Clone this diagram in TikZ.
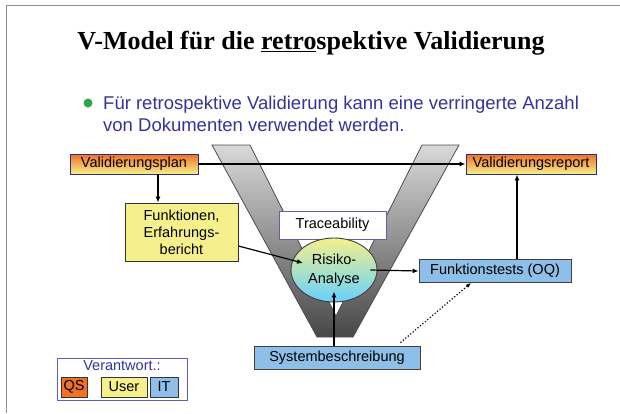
\documentclass[tikz,border=0pt]{standalone}
\usepackage{fontspec}
\setmainfont{Liberation Serif}
\setsansfont{Liberation Sans}
\usetikzlibrary{positioning, arrows.meta, shapes.geometric}
\definecolor{qsorange}{HTML}{F07024}
\definecolor{useryellow}{HTML}{F5F08C}
\definecolor{itblue}{HTML}{8DBFE8}
\definecolor{rimblue}{HTML}{2E2E7A}
\definecolor{rimpurple}{HTML}{6A5AB0}
\definecolor{textblue}{HTML}{333399}
\definecolor{dotgreen}{HTML}{2FA34A}
\definecolor{framegray}{HTML}{8C8C8C}
\tikzset{
  doc/.style={
    draw=rimblue, rectangle, line width=0.9pt,
    top color=qsorange, bottom color=useryellow,
    minimum width=128pt, minimum height=20pt,
    font=\sffamily\fontsize{14.5}{17}\selectfont, inner sep=0pt
  },
  userbox/.style={
    draw=black!80, rectangle, line width=0.9pt,
    fill=useryellow, font=\sffamily\fontsize{14.5}{17}\selectfont,
    inner sep=0pt, align=center
  },
  itbox/.style={
    draw=black!75, rectangle, line width=0.9pt,
    fill=itblue, minimum height=23pt,
    font=\sffamily\fontsize{14.5}{17}\selectfont, inner sep=0pt
  },
  tracebox/.style={
    draw=rimpurple, rectangle, line width=0.9pt, fill=white,
    minimum width=107pt, minimum height=28pt,
    font=\sffamily\fontsize{14.5}{17}\selectfont, inner sep=0pt
  },
  riskell/.style={
    draw=black!75, ellipse, line width=0.9pt,
    top color=useryellow, bottom color=cyan!70!blue!60,
    minimum width=86pt, minimum height=64pt,
    font=\sffamily\fontsize{14.5}{18.5}\selectfont, inner sep=0pt, align=center
  },
  tag/.style={
    draw=black!80, rectangle, line width=0.9pt,
    minimum height=20pt, font=\sffamily\fontsize{14.5}{17}\selectfont,
    inner sep=0pt
  },
  harr/.style={-{Latex[length=6pt, width=5pt]}, line width=1.2pt},
  dotarr/.style={-{Latex[length=5pt, width=4pt]}, line width=1.2pt, dotted},
}

\begin{document}
\begin{tikzpicture}[x=1pt, y=-1pt]
  \useasboundingbox (0,0) rectangle (620,413);
  % slide frame
  \draw[framegray, line width=1pt] (6,413) -- (6,5) -- (620,5);
  \node[font=\fontsize{26}{30}\selectfont\bfseries] (title) at (311,43)
    {V-Model für die \underline{retro}spektive Validierung};
  \fill[dotgreen] (88,103) circle (4.5);
  \node[anchor=north west, align=left, text=textblue, inner sep=0pt,
    font=\sffamily\fontsize{18.5}{22}\selectfont] (intro) at (103,96)
    {Für retrospektive Validierung kann eine verringerte Anzahl\\
     von Dokumenten verwendet werden.};
  % the V
  \draw[black!70, line width=0.8pt, top color=black!15, bottom color=black!72]
    (212,145) -- (250,145) -- (336,316) -- (422,145) -- (459,145)
    -- (353,337) -- (317,337) -- cycle;
  \node[doc] (plan) at (134,164) {Validierungsplan};
  \node[doc, minimum width=130pt] (report) at (531,164) {Validierungsreport};
  \node[userbox, minimum width=113pt, minimum height=58pt] (funk)
    at (181.5,232) {Funktionen,\\Erfahrungs-\\bericht};
  \node[tracebox] (trace) at (332.5,225) {Traceability};
  \node[riskell] (risk) at (334,270) {Risiko-\\Analyse};
  \node[itbox, minimum width=152pt] (tests) at (495,271) {Funktionstests (OQ)};
  \node[itbox, minimum width=166pt] (sys) at (337,357.5) {Systembeschreibung};
  \draw[harr] (plan) -- (report);
  \draw[harr] ([xshift=24pt]plan.south) -- ([xshift=24pt]plan.south |- funk.north);
  \draw[harr] ([yshift=-14pt]funk.east) -- ([xshift=-31pt, yshift=7pt]risk.center);
  \draw[harr] ([xshift=-7pt]risk.east) -- (tests.west);
  \draw[harr] ([xshift=-14pt]report.south |- tests.north) -- ([xshift=-14pt]report.south);
  \draw[harr] (risk.south |- sys.north) -- ([yshift=11pt]risk.south);
  \draw[dotarr] ([xshift=-20pt, yshift=3pt]sys.north east) -- ([xshift=-24pt]tests.south);
  % legend
  \node[draw=rimpurple, line width=0.9pt, minimum width=130pt, minimum height=42pt,
    inner sep=0pt] (legend) at (122,379) {};
  \node[text=textblue, font=\sffamily\fontsize{14.5}{17}\selectfont, inner sep=0pt]
    (verant) at (122,366) {Verantwort.:};
  \node[tag, fill=qsorange, minimum width=26pt] (qs) at (74,387) {QS};
  \node[tag, fill=useryellow, minimum width=46pt] (user) at (124,387) {User};
  \node[tag, fill=itblue, minimum width=28pt] (it) at (164,387) {IT};
\end{tikzpicture}
\end{document}
